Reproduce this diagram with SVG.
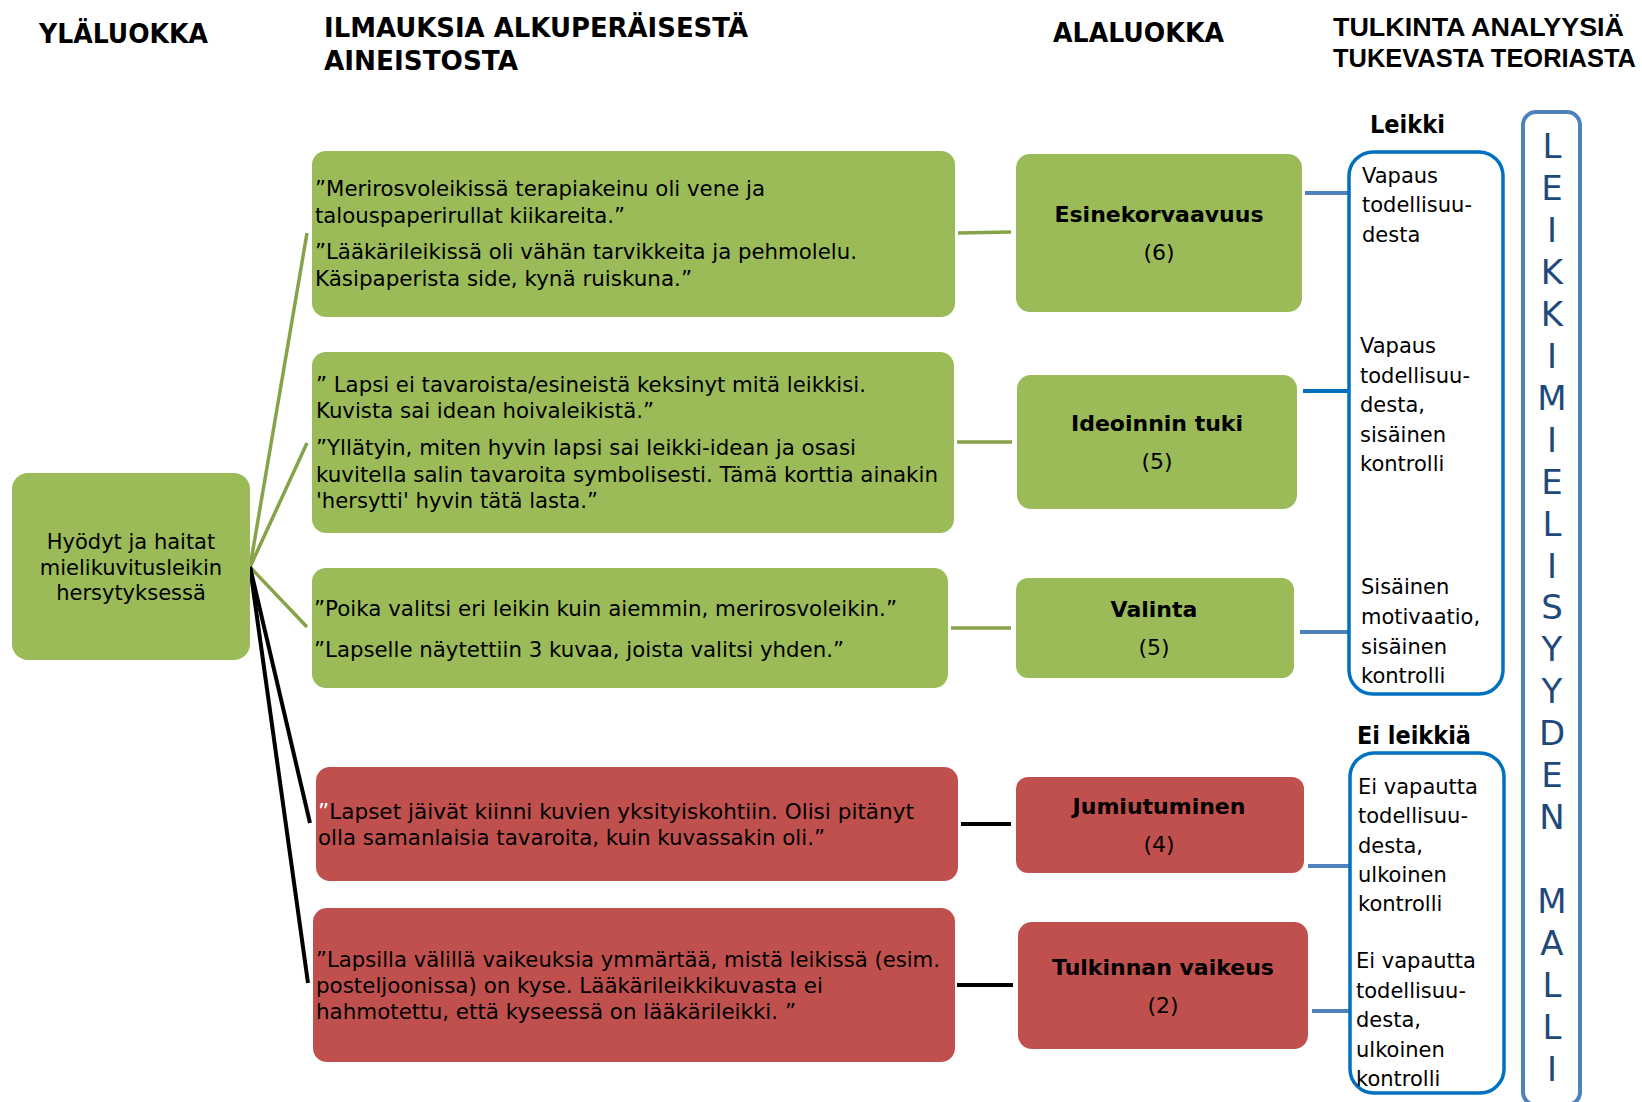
<svg xmlns="http://www.w3.org/2000/svg" width="1642" height="1102" viewBox="0 0 1642 1102">
<style>
text{font-family:"DejaVu Sans","Liberation Sans",sans-serif;fill:#000}
.hdr{font-size:26px;font-weight:bold}
.hdr2{font-family:"Liberation Sans",Arial,sans-serif;font-size:25px;font-weight:bold}
.lbl{font-size:24px;font-weight:bold}
.q{font-size:21px}
.t{font-size:21px}
.sub{font-size:22px;font-weight:bold;text-anchor:middle}
.cnt{font-size:22px;text-anchor:middle}
.mid{text-anchor:middle}
.g{fill:#9BBB59}
.r{fill:#C0504D}
.tb{fill:#fff;stroke:#0070C0;stroke-width:3.5}
.mb{fill:#fff;stroke:#4F81BD;stroke-width:4}
.ml{font-size:34px;fill:#1F497D;text-anchor:middle}
.cg{stroke:#87A34A;stroke-width:3.5;fill:none}
.ck{stroke:#000;stroke-width:4;fill:none}
.cb{stroke:#4F81BD;stroke-width:4;fill:none}
.cb2{stroke:#0070C0;stroke-width:4;fill:none}
</style>

<g id="headers">
<text class="hdr" x="39" y="43" textLength="169" lengthAdjust="spacingAndGlyphs">YLÄLUOKKA</text>
<text class="hdr" x="324" y="37" textLength="424" lengthAdjust="spacingAndGlyphs">ILMAUKSIA ALKUPERÄISESTÄ</text>
<text class="hdr" x="324" y="70" textLength="194" lengthAdjust="spacingAndGlyphs">AINEISTOSTA</text>
<text class="hdr" x="1053" y="42" textLength="171" lengthAdjust="spacingAndGlyphs">ALALUOKKA</text>
<text class="hdr2" x="1333" y="36" textLength="291" lengthAdjust="spacingAndGlyphs">TULKINTA ANALYYSIÄ</text>
<text class="hdr2" x="1333" y="67" textLength="303" lengthAdjust="spacingAndGlyphs">TUKEVASTA TEORIASTA</text>
</g>

<g id="connectors">
<line class="cg" x1="250" y1="567" x2="307" y2="233"/>
<line class="cg" x1="250" y1="567" x2="307" y2="443"/>
<line class="cg" x1="250" y1="567" x2="307" y2="627"/>
<line class="ck" x1="250" y1="567" x2="310" y2="823"/>
<line class="ck" x1="250" y1="567" x2="308" y2="983"/>
<line class="cg" x1="958" y1="233" x2="1011" y2="232" stroke-width="4"/>
<line class="cg" x1="957" y1="442" x2="1012" y2="442" stroke-width="4"/>
<line class="cg" x1="951" y1="628" x2="1011" y2="628" stroke-width="4"/>
<line class="ck" x1="961" y1="824" x2="1011" y2="824"/>
<line class="ck" x1="957" y1="985" x2="1013" y2="985"/>
<line class="cb" x1="1305" y1="193" x2="1349" y2="193"/>
<line class="cb2" x1="1303" y1="391" x2="1349" y2="391"/>
<line class="cb" x1="1300" y1="632" x2="1349" y2="632"/>
<line class="cb" x1="1308" y1="866" x2="1350" y2="866"/>
<line class="cb" x1="1312" y1="1011" x2="1350" y2="1011"/>
</g>

<g id="root">
<rect class="g" x="12" y="473" width="238" height="187" rx="16"/>
<text class="q mid" x="131" y="549">Hyödyt ja haitat</text>
<text class="q mid" x="131" y="575">mielikuvitusleikin</text>
<text class="q mid" x="131" y="600">hersytyksessä</text>
</g>

<g id="quote1">
<rect class="g" x="312" y="151" width="643" height="166" rx="14"/>
<text class="q" x="315" y="196" textLength="450" lengthAdjust="spacingAndGlyphs">”Merirosvoleikissä terapiakeinu oli vene ja</text>
<text class="q" x="315" y="223" textLength="310" lengthAdjust="spacingAndGlyphs">talouspaperirullat kiikareita.”</text>
<text class="q" x="315" y="259" textLength="542" lengthAdjust="spacingAndGlyphs">”Lääkärileikissä oli vähän tarvikkeita ja pehmolelu.</text>
<text class="q" x="315" y="286" textLength="377" lengthAdjust="spacingAndGlyphs">Käsipaperista side, kynä ruiskuna.”</text>
</g>

<g id="quote2">
<rect class="g" x="312" y="352" width="642" height="181" rx="14"/>
<text class="q" x="316" y="392" textLength="550" lengthAdjust="spacingAndGlyphs">” Lapsi ei tavaroista/esineistä keksinyt mitä leikkisi.</text>
<text class="q" x="316" y="418" textLength="338" lengthAdjust="spacingAndGlyphs">Kuvista sai idean hoivaleikistä.”</text>
<text class="q" x="316" y="455" textLength="540" lengthAdjust="spacingAndGlyphs">”Yllätyin, miten hyvin lapsi sai leikki-idean ja osasi</text>
<text class="q" x="316" y="482" textLength="622" lengthAdjust="spacingAndGlyphs">kuvitella salin tavaroita symbolisesti. Tämä korttia ainakin</text>
<text class="q" x="316" y="508" textLength="282" lengthAdjust="spacingAndGlyphs">'hersytti' hyvin tätä lasta.”</text>
</g>

<g id="quote3">
<rect class="g" x="312" y="568" width="636" height="120" rx="14"/>
<text class="q" x="314" y="616" textLength="583" lengthAdjust="spacingAndGlyphs">”Poika valitsi eri leikin kuin aiemmin, merirosvoleikin.”</text>
<text class="q" x="314" y="657" textLength="530" lengthAdjust="spacingAndGlyphs">”Lapselle näytettiin 3 kuvaa, joista valitsi yhden.”</text>
</g>

<g id="quote4">
<rect class="r" x="316" y="767" width="642" height="114" rx="14"/>
<text class="q" x="318" y="819" textLength="596" lengthAdjust="spacingAndGlyphs"><tspan fill="#fff">”</tspan>Lapset jäivät kiinni kuvien yksityiskohtiin.  Olisi pitänyt</text>
<text class="q" x="318" y="845" textLength="507" lengthAdjust="spacingAndGlyphs">olla samanlaisia tavaroita, kuin kuvassakin oli.”</text>
</g>

<g id="quote5">
<rect class="r" x="313" y="908" width="642" height="154" rx="14"/>
<text class="q" x="316" y="967" textLength="624" lengthAdjust="spacingAndGlyphs">”Lapsilla välillä vaikeuksia ymmärtää, mistä leikissä (esim.</text>
<text class="q" x="316" y="993" textLength="507" lengthAdjust="spacingAndGlyphs">posteljoonissa) on kyse. Lääkärileikkikuvasta ei</text>
<text class="q" x="316" y="1019" textLength="480" lengthAdjust="spacingAndGlyphs">hahmotettu, että kyseessä on lääkärileikki. ”</text>
</g>

<g id="sub1">
<rect class="g" x="1016" y="154" width="286" height="158" rx="14"/>
<text class="sub" x="1159" y="222">Esinekorvaavuus</text>
<text class="cnt" x="1159" y="260">(6)</text>
</g>
<g id="sub2">
<rect class="g" x="1017" y="375" width="280" height="134" rx="14"/>
<text class="sub" x="1157" y="431">Ideoinnin tuki</text>
<text class="cnt" x="1157" y="469">(5)</text>
</g>
<g id="sub3">
<rect class="g" x="1016" y="578" width="278" height="100" rx="12"/>
<text class="sub" x="1154" y="617">Valinta</text>
<text class="cnt" x="1154" y="655">(5)</text>
</g>
<g id="sub4">
<rect class="r" x="1016" y="777" width="288" height="96" rx="12"/>
<text class="sub" x="1159" y="814">Jumiutuminen</text>
<text class="cnt" x="1159" y="852">(4)</text>
</g>
<g id="sub5">
<rect class="r" x="1018" y="922" width="290" height="127" rx="14"/>
<text class="sub" x="1163" y="975">Tulkinnan vaikeus</text>
<text class="cnt" x="1163" y="1013">(2)</text>
</g>

<g id="theory-leikki">
<text class="lbl" x="1370" y="133" textLength="75" lengthAdjust="spacingAndGlyphs">Leikki</text>
<rect class="tb" x="1349" y="152" width="154" height="542" rx="24"/>
<text class="t" x="1362" y="183">Vapaus</text>
<text class="t" x="1362" y="212">todellisuu-</text>
<text class="t" x="1362" y="242">desta</text>
<text class="t" x="1360" y="353">Vapaus</text>
<text class="t" x="1360" y="383">todellisuu-</text>
<text class="t" x="1360" y="412">desta,</text>
<text class="t" x="1360" y="442">sisäinen</text>
<text class="t" x="1360" y="471">kontrolli</text>
<text class="t" x="1361" y="594">Sisäinen</text>
<text class="t" x="1361" y="624">motivaatio,</text>
<text class="t" x="1361" y="654">sisäinen</text>
<text class="t" x="1361" y="683">kontrolli</text>
</g>

<g id="theory-ei-leikkia">
<text class="lbl" x="1357" y="744" textLength="114" lengthAdjust="spacingAndGlyphs">Ei leikkiä</text>
<rect class="tb" x="1350" y="753" width="154" height="340" rx="24"/>
<text class="t" x="1358" y="794">Ei vapautta</text>
<text class="t" x="1358" y="823">todellisuu-</text>
<text class="t" x="1358" y="853">desta,</text>
<text class="t" x="1358" y="882">ulkoinen</text>
<text class="t" x="1358" y="911">kontrolli</text>
<text class="t" x="1356" y="968">Ei vapautta</text>
<text class="t" x="1356" y="998">todellisuu-</text>
<text class="t" x="1356" y="1027">desta,</text>
<text class="t" x="1356" y="1057">ulkoinen</text>
<text class="t" x="1356" y="1086">kontrolli</text>
</g>

<g id="model">
<rect class="mb" x="1523" y="112" width="57" height="993" rx="13"/>
<text class="ml" x="1552" y="158">L</text>
<text class="ml" x="1552" y="200">E</text>
<text class="ml" x="1552" y="242">I</text>
<text class="ml" x="1552" y="284">K</text>
<text class="ml" x="1552" y="326">K</text>
<text class="ml" x="1552" y="368">I</text>
<text class="ml" x="1552" y="410">M</text>
<text class="ml" x="1552" y="452">I</text>
<text class="ml" x="1552" y="494">E</text>
<text class="ml" x="1552" y="536">L</text>
<text class="ml" x="1552" y="578">I</text>
<text class="ml" x="1552" y="619">S</text>
<text class="ml" x="1552" y="661">Y</text>
<text class="ml" x="1552" y="703">Y</text>
<text class="ml" x="1552" y="745">D</text>
<text class="ml" x="1552" y="787">E</text>
<text class="ml" x="1552" y="829">N</text>
<text class="ml" x="1552" y="913">M</text>
<text class="ml" x="1552" y="955">A</text>
<text class="ml" x="1552" y="997">L</text>
<text class="ml" x="1552" y="1039">L</text>
<text class="ml" x="1552" y="1081">I</text>
</g>
</svg>
